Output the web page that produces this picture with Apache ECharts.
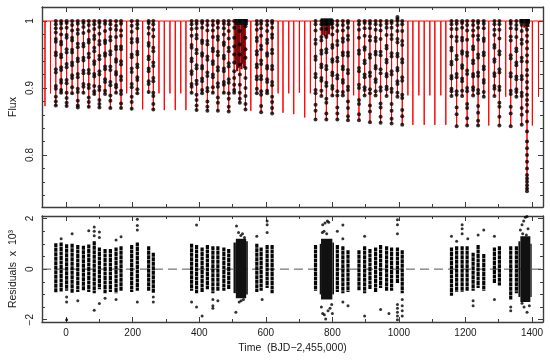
<!DOCTYPE html>
<html><head><meta charset="utf-8">
<script src="https://cdn.jsdelivr.net/npm/echarts@6/dist/echarts.min.js"></script>
<style>html,body{margin:0;padding:0;background:#fff}#c{width:550px;height:360px}</style>
</head><body><div id="c"></div><script>
// ---- axes ----
const xMin = -72.5, xMax = 1433;
const xMajor = [0, 200, 400, 600, 800, 1000, 1200, 1400];
const xMinor = [100, 300, 500, 700, 900, 1100, 1300];
const fluxMin = 0.7224, fluxMax = 1.0209;
const fluxMajor = [0.8, 0.9, 1.0];
const fluxMinor = [0.74, 0.76, 0.78, 0.82, 0.84, 0.86, 0.88, 0.92, 0.94, 0.96, 0.98, 1.02];
const resMin = -2.09, resMax = 2.1;
const resMajor = [-2, 0, 2];
const resMinor = [-1.5, -1, -0.5, 0.5, 1, 1.5];

// ---- model eclipses (time, depth) ----
const modelT = [-63.5,-47,-31,-15,1.5,18,35,52,68,84.5,100,117,133,150,165,182,197,214,230,248,262,279,295,312,328,344.5,360,377,392,408.6,424.5,441,456,474,488.6,505,522,539,555,573,586,604,619,637,651.7,669,684,701,717,734,749.5,767,782,800,815,831.6,847,864,880,897,913,930,945,963,978,995.6,1010,1027,1042,1060,1076,1093,1108,1126,1141,1158,1173.5,1190,1205,1223,1238,1255,1270,1287,1302,1321,1336,1353,1369,1385,1401,1419.5];
const modelDepth = [0.873,0.892,0.873,0.892,0.872,0.891,0.871,0.892,0.870,0.890,0.870,0.891,0.869,0.892,0.869,0.892,0.868,0.891,0.868,0.892,0.867,0.892,0.867,0.892,0.867,0.892,0.867,0.892,0.866,0.892,0.866,0.892,0.866,0.892,0.865,0.893,0.878,0.868,0.866,0.892,0.864,0.892,0.862,0.892,0.863,0.892,0.861,0.893,0.856,0.892,0.853,0.888,0.853,0.889,0.853,0.889,0.852,0.889,0.852,0.889,0.849,0.889,0.848,0.888,0.847,0.887,0.845,0.889,0.845,0.889,0.845,0.889,0.845,0.889,0.845,0.888,0.843,0.888,0.844,0.889,0.844,0.887,0.844,0.888,0.844,0.887,0.843,0.887,0.845,0.747,0.844,0.887];
const eclipseHalfWidth = 0.25;

// ---- short-cadence clusters in the flux panel ----
const fluxBands = [[506, 546, 0.994, 1.003], [765, 801, 0.993, 1.004], [1362, 1394, 0.996, 1.003]];
const fluxStripes = [[509, 0.935], [514, 0.925], [519, 0.93], [527, 0.928], [531, 0.936], [535, 0.93],
  [771, 0.979], [777, 0.977], [784, 0.978], [790, 0.98], [1377, 0.99], [1383, 0.988], [1389, 0.991]];

// ---- observed flux (time, flux values in eclipse) ----
const fluxCols = [
 [-31,[1.000,0.995,0.989,0.983,0.973,0.969,0.953,0.949,0.928,0.923,0.903,0.899,0.887,0.880,0.874]],
 [-15,[1.000,0.996,0.989,0.980,0.969,0.965,0.950,0.946,0.931,0.927,0.912,0.908,0.897,0.893]],
 [1.5,[1.000,0.997,0.990,0.979,0.975,0.958,0.953,0.936,0.931,0.912,0.907,0.893,0.885,0.878,0.873]],
 [18,[1.000,0.994,0.986,0.975,0.971,0.957,0.953,0.938,0.934,0.919,0.915,0.901,0.892]],
 [35,[1.000,0.996,0.987,0.981,0.966,0.961,0.944,0.940,0.921,0.916,0.899,0.894,0.881,0.874,0.871]],
 [52,[1.000,0.997,0.991,0.982,0.966,0.962,0.945,0.941,0.926,0.922,0.906,0.902,0.893]],
 [68,[1.000,0.994,0.985,0.972,0.968,0.951,0.946,0.927,0.922,0.905,0.900,0.886,0.879,0.872]],
 [84.5,[1.000,0.995,0.988,0.978,0.973,0.960,0.955,0.940,0.936,0.921,0.917,0.903,0.895,0.891]],
 [100,[1.000,0.997,0.991,0.981,0.970,0.965,0.948,0.943,0.925,0.920,0.902,0.897,0.882,0.876,0.871]],
 [117,[1.000,0.996,0.985,0.971,0.967,0.952,0.948,0.932,0.928,0.913,0.909,0.896,0.891]],
 [133,[1.000,0.995,0.988,0.976,0.971,0.955,0.950,0.932,0.927,0.909,0.904,0.889,0.881,0.870]],
 [150,[1.000,0.993,0.987,0.976,0.962,0.958,0.943,0.939,0.924,0.920,0.905,0.901,0.893]],
 [165,[1.000,0.996,0.986,0.978,0.962,0.958,0.940,0.935,0.917,0.912,0.896,0.891,0.877,0.870]],
 [197,[1.000,0.993,0.984,0.973,0.968,0.950,0.946,0.929,0.924,0.906,0.901,0.887,0.879,0.869]],
 [214,[1.000,0.995,0.989,0.973,0.969,0.954,0.950,0.935,0.931,0.916,0.912,0.898,0.892]],
 [248,[1.000,0.997,0.990,0.981,0.967,0.963,0.947,0.943,0.929,0.925,0.910,0.906,0.894]],
 [262,[1.000,0.995,0.987,0.977,0.960,0.955,0.938,0.933,0.915,0.910,0.893,0.888,0.876,0.868]],
 [377,[1.000,0.995,0.988,0.978,0.964,0.960,0.944,0.940,0.925,0.921,0.906,0.902,0.893]],
 [392,[1.000,0.996,0.989,0.979,0.974,0.957,0.952,0.934,0.929,0.911,0.906,0.890,0.882,0.874,0.867]],
 [408.6,[1.000,0.997,0.990,0.971,0.967,0.952,0.948,0.933,0.929,0.914,0.910,0.897,0.892]],
 [424.5,[1.000,0.994,0.986,0.970,0.965,0.947,0.942,0.923,0.918,0.900,0.895,0.880,0.872,0.866]],
 [441,[1.000,0.994,0.986,0.976,0.959,0.955,0.940,0.936,0.920,0.916,0.901,0.893]],
 [456,[1.000,0.997,0.990,0.977,0.972,0.954,0.949,0.931,0.926,0.907,0.902,0.886,0.878,0.866]],
 [474,[1.000,0.996,0.989,0.980,0.968,0.964,0.948,0.944,0.929,0.925,0.909,0.905,0.893]],
 [488.6,[1.000,0.995,0.985,0.974,0.960,0.955,0.937,0.932,0.913,0.908,0.892,0.884,0.872,0.865]],
 [505,[1.000,0.990,0.975,0.962,0.950,0.938,0.925,0.915,0.905,0.897,0.893]],
 [522,[1.000,0.985,0.965,0.950,0.935,0.920,0.905,0.893,0.884,0.878]],
 [539,[1.000,0.992,0.975,0.958,0.945,0.930,0.915,0.900,0.888,0.876,0.868]],
 [573,[1.000,0.995,0.987,0.975,0.970,0.955,0.950,0.935,0.931,0.917,0.913,0.899,0.892]],
 [586,[1.000,0.996,0.989,0.978,0.963,0.958,0.941,0.936,0.918,0.913,0.895,0.890,0.873,0.864]],
 [604,[1.000,0.994,0.985,0.972,0.967,0.952,0.948,0.933,0.929,0.913,0.909,0.896,0.892]],
 [619,[1.000,0.997,0.990,0.980,0.975,0.957,0.952,0.933,0.928,0.909,0.904,0.887,0.879,0.870,0.862]],
 [749.5,[1.000,0.995,0.986,0.972,0.966,0.947,0.942,0.921,0.916,0.897,0.892,0.875,0.866,0.853]],
 [767,[1.000,0.995,0.988,0.976,0.971,0.956,0.951,0.935,0.931,0.915,0.911,0.896,0.888]],
 [782,[1.000,0.996,0.988,0.976,0.958,0.953,0.933,0.928,0.908,0.903,0.884,0.878,0.862,0.853]],
 [800,[1.000,0.996,0.990,0.980,0.964,0.960,0.943,0.939,0.923,0.919,0.903,0.899,0.889]],
 [815,[1.000,0.994,0.985,0.970,0.964,0.945,0.940,0.919,0.914,0.895,0.889,0.871,0.862,0.853]],
 [831.6,[1.000,0.994,0.986,0.974,0.969,0.953,0.949,0.932,0.928,0.912,0.908,0.894,0.889]],
 [847,[1.000,0.997,0.990,0.978,0.972,0.953,0.948,0.927,0.922,0.902,0.897,0.880,0.870,0.858,0.852]],
 [880,[1.000,0.995,0.987,0.975,0.956,0.951,0.930,0.925,0.905,0.900,0.882,0.876,0.861,0.852]],
 [897,[1.000,0.997,0.989,0.978,0.961,0.957,0.941,0.937,0.920,0.916,0.901,0.897,0.889]],
 [913,[1.000,0.996,0.989,0.977,0.971,0.950,0.945,0.923,0.918,0.898,0.892,0.874,0.865,0.849]],
 [930,[1.000,0.995,0.987,0.975,0.970,0.954,0.950,0.933,0.929,0.913,0.909,0.895,0.889]],
 [945,[1.000,0.994,0.986,0.973,0.954,0.949,0.928,0.922,0.901,0.896,0.877,0.871,0.857,0.848]],
 [963,[1.000,0.996,0.990,0.979,0.963,0.959,0.942,0.938,0.921,0.917,0.902,0.898,0.888]],
 [978,[1.000,0.997,0.990,0.979,0.973,0.952,0.947,0.925,0.920,0.899,0.894,0.876,0.866,0.854,0.847]],
 [995.6,[1.006,1.003,1.000,0.994,0.985,0.973,0.968,0.951,0.947,0.930,0.926,0.910,0.906,0.893,0.887]],
 [1010,[1.000,0.995,0.985,0.970,0.964,0.943,0.938,0.916,0.911,0.890,0.885,0.867,0.858,0.845]],
 [1158,[1.000,0.995,0.988,0.977,0.960,0.956,0.939,0.935,0.918,0.914,0.899,0.895,0.888]],
 [1173.5,[1.000,0.996,0.988,0.976,0.970,0.948,0.943,0.921,0.916,0.895,0.890,0.871,0.861,0.843]],
 [1190,[1.000,0.997,0.990,0.975,0.971,0.955,0.951,0.934,0.930,0.914,0.910,0.896,0.888]],
 [1205,[1.000,0.994,0.986,0.972,0.953,0.948,0.926,0.921,0.900,0.895,0.876,0.870,0.855,0.844]],
 [1223,[1.000,0.994,0.986,0.978,0.962,0.958,0.941,0.937,0.921,0.917,0.901,0.897,0.889]],
 [1238,[1.000,0.997,0.990,0.978,0.972,0.950,0.945,0.923,0.918,0.897,0.892,0.873,0.863,0.851,0.844]],
 [1255,[1.000,0.996,0.989,0.974,0.970,0.953,0.949,0.932,0.928,0.912,0.908,0.894,0.887]],
 [1287,[1.000,0.995,0.987,0.979,0.964,0.960,0.943,0.939,0.922,0.918,0.903,0.899,0.888]],
 [1302,[1.000,0.995,0.987,0.974,0.955,0.950,0.928,0.923,0.902,0.897,0.878,0.872,0.857,0.844]],
 [1336,[1.000,0.996,0.989,0.977,0.971,0.949,0.944,0.922,0.917,0.896,0.891,0.872,0.862,0.843]],
 [1353,[1.000,0.994,0.988,0.976,0.959,0.955,0.938,0.934,0.917,0.913,0.898,0.894,0.887]],
 [1369,[1.000,0.994,0.985,0.972,0.966,0.945,0.940,0.918,0.913,0.893,0.888,0.870,0.860,0.845]],
 [1385,[1.000,0.994,0.987,0.978,0.969,0.959,0.949,0.939,0.927,0.919,0.909,0.900,0.890,0.882,0.875,0.865,0.850,0.835,0.820,0.810,0.800,0.790,0.780,0.770,0.765,0.760,0.755,0.750,0.746]]
];

// ---- residuals (x 10^3): per-eclipse spread [time, low, high] ----
const resCols = [
 [-31,-0.93,1.02],[-15,-0.88,1.05],[1.5,-0.85,0.98],[18,-0.95,1.0],[35,-0.9,0.95],[52,-0.85,0.92],
 [68,-0.9,0.97],[84.5,-0.95,1.1],[100,-0.8,0.85],[117,-0.95,0.8],[133,-0.9,0.8],[150,-0.95,0.85],
 [165,-0.85,0.9],[197,-0.9,0.95],[214,-0.85,1.05],[248,-0.85,0.9],[262,-0.95,0.65],
 [377,-0.85,1.0],[392,-0.95,0.95],[408.6,-0.9,0.85],[424.5,-0.8,0.95],[441,-0.95,0.9],[456,-0.85,0.9],
 [474,-0.85,0.85],[488.6,-0.8,0.8],[573,-0.9,1.0],[586,-0.85,0.85],[604,-0.75,0.95],[619,-0.95,0.95],
 [749.5,-0.85,0.95],[815,-0.9,0.95],[831.6,-0.95,0.9],[847,-0.9,0.75],[880,-0.85,0.75],[897,-0.95,0.9],
 [913,-0.8,0.8],[930,-0.9,0.85],[945,-0.75,0.95],[963,-0.85,0.9],[978,-0.85,0.85],[995.6,-0.55,0.85],
 [1010,-0.95,0.75],[1158,-1.05,0.85],[1173.5,-0.9,0.9],[1190,-0.9,0.9],[1205,-0.85,0.9],[1223,-0.85,0.65],
 [1238,-0.75,0.95],[1255,-0.85,0.6],[1287,-0.55,0.85],[1302,-0.65,0.9],[1336,-1.2,0.9],[1353,-0.95,0.9]
];
// dense short-cadence residual blocks [t0, t1, low, high]
const resBlocks = [[503,510,-0.95,1.05],[510,541,-1.15,1.2],[541,546,-1.0,1.1],
  [762,766,-1.0,1.0],[766,800,-1.2,1.2],[800,805,-1.0,1.05],
  [1359,1365,-1.1,1.1],[1365,1395,-1.3,1.3],[1395,1399,-1.1,1.0]];
// isolated residual points [time, residual]
const resOutliers = [
 [-15,1.2],[1.5,-1.1],[1.5,-1.3],[1.5,-2.0],[18,1.4],[35,-1.25],[68,1.52],[84.5,1.67],[84.5,1.5],[84.5,1.32],
 [84.5,-1.63],[100,1.47],[100,1.25],[100,-1.36],[117,-1.15],[150,1.15],[150,-1.2],[165,1.28],[214,1.97],
 [214,1.72],[214,1.55],[214,-1.3],[262,-1.1],[262,-1.3],[377,-1.3],[392,1.74],[392,-1.5],[408.6,-1.85],
 [441,-1.2],[441,-1.45],[441,-1.55],[456,-1.25],
 [512,1.7],[518,1.45],[525,1.33],[530,1.4],[536,1.25],[510,-1.7],[520,-1.3],[526,-1.25],[533,-1.2],
 [573,1.3],[604,1.9],[604,1.75],[604,1.45],[589,-1.2],
 [771,1.75],[778,1.82],[785,1.9],[789,1.85],[770,1.45],[775,1.5],[783,1.4],[767,-1.5],[771,-1.75],
 [776,-1.8],[780,-1.97],[787,-1.65],[793,-1.55],[798,-1.4],[800,-1.75],
 [815,1.5],[831.6,1.74],[831.6,1.2],[831.6,-1.3],[847,-1.45],[897,1.3],[897,-1.85],[945,-1.6],
 [995.6,1.95],[995.6,1.75],[995.6,1.4],[995.6,-1.4],[995.6,-1.55],[995.6,-1.7],[995.6,-1.85],[995.6,-2.0],
 [1010,-1.2],[1010,-1.45],[1010,-1.65],[1010,-1.85],[970,-1.75],
 [1158,1.3],[1173.5,1.1],[1190,1.75],[1190,1.6],[1190,1.4],[1207,1.2],[1223,-1.25],[1223,-1.45],
 [1238,1.35],[1255,1.55],[1287,1.3],[1287,-1.2],[1336,-1.5],[1336,-1.65],
 [1365,1.55],[1370,1.75],[1375,1.9],[1380,2.05],[1385,2.08],[1372,1.4],[1388,1.6],[1383,1.35],
 [1376,-1.5],[1385,-1.7],[1392,-1.45],[1370,-1.35]
];

// ---- build ----
const frame = '#3c3c3c', txt = '#1a1a1a', font = 'Liberation Sans';
const modelLine = [[xMin, 1]];
modelT.forEach((t, i) => { modelLine.push([t - eclipseHalfWidth, 1], [t, modelDepth[i]], [t + eclipseHalfWidth, 1]); });
modelLine.push([xMax, 1]);
const fluxPts = [];
fluxCols.forEach(([t, fs]) => fs.forEach(f => fluxPts.push([t, f])));
const minus = v => String(v).replace('-', '\u2212');

function ax(gi, pos, min, max, ticks, len, showLine, labels, extra) {
  const a = {
    type: 'value', gridIndex: gi, position: pos, min: min, max: max,
    axisLine: { show: showLine, onZero: false, lineStyle: { color: frame, width: 1.4 } },
    axisTick: { show: true, inside: true, length: len, customValues: ticks, lineStyle: { color: frame, width: 1 } },
    axisLabel: labels ? Object.assign({ show: true, customValues: ticks, color: txt, fontFamily: font, fontSize: 10, formatter: minus }, labels) : { show: false },
    splitLine: { show: false }
  };
  return Object.assign(a, extra || {});
}
const nameStyle = { color: txt, fontFamily: font, fontSize: 10.5 };
const xAxis = [], yAxis = [];
[0, 1].forEach(gi => {
  xAxis.push(ax(gi, 'bottom', xMin, xMax, xMajor, 5, true, gi === 1 ? { margin: 6 } : null,
    gi === 1 ? { name: 'Time  (BJD\u22122,455,000)', nameLocation: 'middle', nameGap: 21, nameTextStyle: nameStyle } : null));
  xAxis.push(ax(gi, 'bottom', xMin, xMax, xMinor, 3, false, null));
  xAxis.push(ax(gi, 'top', xMin, xMax, xMajor, 5, true, null));
  xAxis.push(ax(gi, 'top', xMin, xMax, xMinor, 3, false, null));
});
yAxis.push(ax(0, 'left', fluxMin, fluxMax, fluxMajor, 5, true, null,
  { name: 'Flux', nameLocation: 'middle', nameGap: 23, nameRotate: 90, nameTextStyle: nameStyle }));
yAxis.push(ax(0, 'left', fluxMin, fluxMax, fluxMinor, 3, false, null));
yAxis.push(ax(0, 'right', fluxMin, fluxMax, fluxMajor, 5, true, null));
yAxis.push(ax(0, 'right', fluxMin, fluxMax, fluxMinor, 3, false, null));
yAxis.push(ax(1, 'left', resMin, resMax, resMajor, 5, true, null,
  { name: 'Residuals  x  10\u00b3', nameLocation: 'middle', nameGap: 23, nameRotate: 90, nameTextStyle: nameStyle }));
yAxis.push(ax(1, 'left', resMin, resMax, resMinor, 3, false, null));
yAxis.push(ax(1, 'right', resMin, resMax, resMajor, 5, true, null));
yAxis.push(ax(1, 'right', resMin, resMax, resMinor, 3, false, null));

function colRender(params, api) {
  const t = api.value(0), p1 = api.coord([t, api.value(2)]), p2 = api.coord([t, api.value(1)]);
  return { type: 'line', shape: { x1: p1[0], y1: p1[1], x2: p2[0], y2: p2[1] },
    style: { stroke: '#050505', lineWidth: 3.2, lineDash: [4, 0.5] } };
}
function stripeRender(params, api) {
  const t = api.value(0), p1 = api.coord([t, api.value(2)]), p2 = api.coord([t, api.value(1)]);
  return { type: 'rect', shape: { x: p1[0] - 1.1, y: p1[1], width: 2.2, height: p2[1] - p1[1] }, style: { fill: '#7a0a0a' } };
}
function blockRender(params, api) {
  const p1 = api.coord([api.value(0), api.value(3)]), p2 = api.coord([api.value(1), api.value(2)]);
  return { type: 'rect', shape: { x: p1[0], y: p1[1], width: p2[0] - p1[0], height: p2[1] - p1[1] }, style: { fill: '#111' } };
}
const stripeData = fluxStripes.map(([t, lo]) => [t, lo, 1.0]);

const chart = echarts.init(document.getElementById('c'), null, { renderer: 'canvas' });
chart.setOption({
  animation: false,
  backgroundColor: '#fff',
  grid: [{ left: 35, top: 7, width: 508, height: 200 }, { left: 35, top: 216, width: 508, height: 106 }],
  xAxis: xAxis, yAxis: yAxis,
  series: [
    { type: 'line', xAxisIndex: 0, yAxisIndex: 0, data: modelLine, showSymbol: false, symbol: 'none',
      lineStyle: { color: '#ff0000', width: 1 }, z: 2, clip: true },
    { type: 'custom', xAxisIndex: 0, yAxisIndex: 0, data: stripeData, renderItem: stripeRender,
      encode: { x: 0, y: [1, 2] }, z: 3 },
    { type: 'custom', xAxisIndex: 0, yAxisIndex: 0, data: fluxBands, renderItem: blockRender,
      encode: { x: [0, 1], y: [2, 3] }, z: 4 },
    { type: 'scatter', xAxisIndex: 0, yAxisIndex: 0, data: fluxPts, symbol: 'circle', symbolSize: 4,
      itemStyle: { color: '#000' }, z: 5 },
    { type: 'line', xAxisIndex: 4, yAxisIndex: 4, data: [[xMin, 0], [xMax, 0]], showSymbol: false, symbol: 'none',
      lineStyle: { color: '#555', width: 1, type: [9, 5] }, z: 1 },
    { type: 'custom', xAxisIndex: 4, yAxisIndex: 4, data: resCols, renderItem: colRender,
      encode: { x: 0, y: [1, 2] }, z: 3 },
    { type: 'custom', xAxisIndex: 4, yAxisIndex: 4, data: resBlocks, renderItem: blockRender,
      encode: { x: [0, 1], y: [2, 3] }, z: 3 },
    { type: 'scatter', xAxisIndex: 4, yAxisIndex: 4, data: resOutliers, symbol: 'circle', symbolSize: 3,
      itemStyle: { color: '#000' }, z: 4 }
  ]
});

// rotated y tick labels, positioned through the axis scales
const yLabels = [];
fluxMajor.forEach(v => {
  const p = chart.convertToPixel({ xAxisIndex: 0, yAxisIndex: 0 }, [xMin, v]);
  yLabels.push({ type: 'text', x: p[0] - 12, y: p[1], rotation: Math.PI / 2,
    style: { text: minus(v), fill: txt, font: '10px ' + font, align: 'center', verticalAlign: 'middle' } });
});
resMajor.forEach(v => {
  const p = chart.convertToPixel({ xAxisIndex: 4, yAxisIndex: 4 }, [xMin, v]);
  yLabels.push({ type: 'text', x: p[0] - 12, y: p[1], rotation: Math.PI / 2,
    style: { text: minus(v), fill: txt, font: '10px ' + font, align: 'center', verticalAlign: 'middle' } });
});
chart.setOption({ graphic: yLabels });
</script></body></html>
